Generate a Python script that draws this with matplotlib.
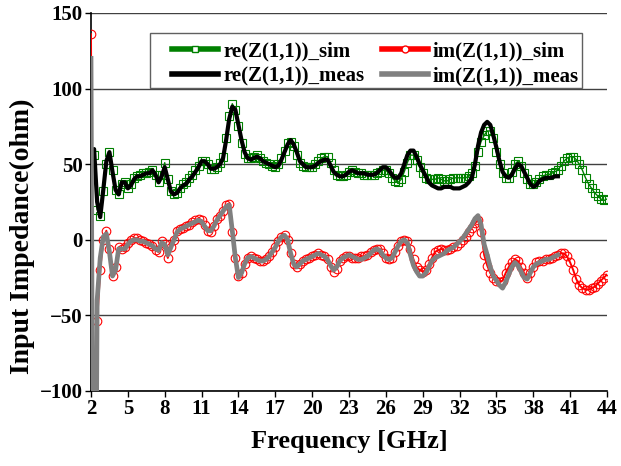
import numpy as np
import matplotlib
matplotlib.use("Agg")
import matplotlib.pyplot as plt
from matplotlib.lines import Line2D
from matplotlib.patches import Rectangle

plt.rcParams['font.family'] = ['Liberation Serif', 'DejaVu Serif']
plt.rcParams['font.weight'] = 'bold'

# frequency grids (GHz), 0.25 GHz sampling
freq_sim = np.arange(2.0, 44.001, 0.25)
freq_meas = np.arange(2.0, 40.001, 0.25)

# re(Z(1,1))_sim, 2.0 ... 44.0 GHz (8 values per 2 GHz)
re_sim = [
    58, 56, 20, 16, 32, 50, 58, 46,      # 2
    33, 30, 37, 38, 34, 37, 41, 42,      # 4
    43, 44, 44, 45, 46, 43, 38, 43,      # 6
    51, 40, 32, 30, 31, 34, 37, 38,      # 8
    41, 43, 46, 49, 52, 52, 50, 47,      # 10
    47, 48, 51, 55, 67, 82, 90, 86,      # 12
    75, 64, 57, 54, 54, 55, 56, 54,      # 14
    52, 51, 50, 49, 48, 50, 54, 59,      # 16
    64, 65, 62, 56, 51, 49, 48, 48,      # 18
    48, 50, 52, 54, 55, 55, 51, 46,      # 20
    43, 42, 42, 43, 45, 46, 45, 44,      # 22
    44, 43, 43, 43, 43, 44, 45, 46,      # 24
    46, 44, 41, 39, 38, 40, 45, 51,      # 26
    56, 56, 53, 48, 44, 41, 40, 40,      # 28
    40, 41, 40, 39, 39, 40, 41, 41,      # 30
    41, 41, 41, 42, 44, 49, 58, 65,      # 32
    69, 72, 72, 67, 58, 50, 44, 41,      # 34
    41, 45, 50, 52, 49, 44, 40, 37,      # 36
    37, 38, 40, 42, 43, 43, 44, 45,      # 38
    46, 49, 52, 54, 55, 55, 53, 50,      # 40
    46, 41, 37, 34, 31, 29, 27, 26,      # 42
    27,                                  # 44
]

# im(Z(1,1))_sim, 2.0 ... 44.0 GHz (runs far below the axis just after 2 GHz)
im_sim = [
    136, -400, -54, -20, 0, 6, -6, -24,  # 2
    -18, -5, -6, -5, -2, 0, 1, 1,        # 4
    0, -1, -2, -3, -4, -7, -8, -1,       # 6
    -3, -12, -5, 0, 6, 7, 8, 9,          # 8
    10, 12, 13, 14, 13, 10, 6, 5,        # 10
    9, 14, 16, 19, 23, 24, 5, -12,       # 12
    -24, -22, -16, -12, -11, -12, -13, -14,  # 14
    -14, -13, -11, -8, -5, -1, 2, 3,     # 16
    0, -9, -16, -18, -16, -14, -13, -12,  # 18
    -11, -10, -9, -10, -11, -13, -18, -21,  # 20
    -19, -14, -12, -11, -11, -12, -12, -12,  # 22
    -11, -11, -10, -8, -7, -6, -6, -9,   # 24
    -12, -13, -12, -8, -4, -1, 0, -1,    # 26
    -6, -13, -18, -20, -21, -20, -16, -12,  # 28
    -8, -7, -6, -7, -7, -6, -5, -4,      # 30
    -2, 0, 2, 5, 8, 11, 13, 5,           # 32
    -10, -17, -22, -25, -27, -28, -27, -22,  # 34
    -18, -15, -13, -14, -18, -22, -25, -22,  # 36
    -18, -15, -14, -14, -13, -13, -12, -11,  # 38
    -10, -9, -9, -11, -15, -20, -26, -30,  # 40
    -32, -33, -33, -32, -31, -29, -27, -25,  # 42
    -23,                                 # 44
]

# re(Z(1,1))_meas, 2.0 ... 40.0 GHz
re_meas = [
    55, 60, 25, 15, 33, 52, 58, 45,      # 2
    33, 30, 38, 38, 34, 36, 40, 42,      # 4
    42, 43, 44, 44, 46, 43, 38, 42,      # 6
    48, 40, 32, 30, 31, 34, 36, 37,      # 8
    40, 42, 45, 48, 52, 52, 50, 47,      # 10
    47, 48, 50, 54, 66, 80, 88, 86,      # 12
    76, 66, 58, 54, 53, 54, 55, 54,      # 14
    52, 51, 50, 49, 48, 49, 53, 58,      # 16
    63, 66, 63, 58, 52, 50, 48, 48,      # 18
    48, 49, 51, 52, 53, 53, 49, 45,      # 20
    43, 42, 42, 43, 45, 46, 45, 44,      # 22
    44, 44, 43, 43, 43, 44, 46, 48,      # 24
    48, 46, 43, 41, 41, 44, 50, 56,      # 26
    59, 59, 55, 50, 46, 42, 38, 36,      # 28
    35, 34, 34, 35, 35, 35, 34, 34,      # 30
    34, 35, 36, 38, 41, 50, 62, 71,      # 32
    76, 78, 76, 69, 61, 52, 45, 42,      # 34
    41, 43, 47, 50, 49, 45, 41, 37,      # 36
    35, 36, 39, 40, 41, 41, 41, 42,      # 38
    42,                                  # 40
]

# im(Z(1,1))_meas, 2.0 ... 40.0 GHz
im_meas = [
    120, -400, -40, -12, 2, 4, -8, -24,  # 2
    -20, -6, -6, -6, -3, -1, 0, 0,       # 4
    -1, -1, -2, -3, -4, -6, -7, -2,      # 6
    -3, -10, -5, 0, 5, 7, 8, 9,          # 8
    10, 11, 12, 13, 12, 9, 6, 6,         # 10
    9, 13, 16, 19, 22, 23, 6, -12,       # 12
    -25, -22, -16, -12, -11, -12, -13, -14,  # 14
    -14, -13, -11, -8, -5, -1, 2, 3,     # 16
    0, -9, -16, -18, -16, -14, -13, -12,  # 18
    -11, -10, -9, -10, -11, -13, -17, -20,  # 20
    -18, -14, -12, -11, -10, -11, -12, -13,  # 22
    -13, -12, -11, -9, -7, -6, -7, -10,  # 24
    -12, -13, -12, -8, -4, -1, 0, -2,    # 26
    -10, -17, -21, -24, -24, -22, -18, -14,  # 28
    -12, -11, -10, -9, -7, -6, -5, -3,   # 30
    -1, 1, 4, 7, 10, 14, 16, 10,         # 32
    -3, -10, -18, -24, -27, -30, -32, -28,  # 34
    -23, -18, -15, -17, -21, -25, -26, -22,  # 36
    -18, -16, -15, -14, -13, -13, -12, -11,  # 38
    -10,                                 # 40
]

x_ticks = list(range(2, 45, 3))
y_ticks = [-100, -50, 0, 50, 100, 150]

fig = plt.figure(figsize=(6.21, 4.66), dpi=100)
ax = fig.add_axes([91 / 621, 1 - 391 / 466, 516 / 621, 378 / 466])

ax.plot(freq_sim, re_sim, color='green', lw=1.0, marker='s', ms=5.6,
        mfc='none', mec='green', mew=0.8, zorder=3)
ax.plot(freq_sim, im_sim, color='red', lw=1.4, marker='o', ms=6.2,
        mfc='none', mec='red', mew=0.8, zorder=3)
ax.plot(freq_meas, re_meas, color='black', lw=3.0, zorder=4)
ax.plot(freq_meas, im_meas, color='#808080', lw=3.4, zorder=4)

ax.set_xlim(2, 44)
ax.set_ylim(-100, 150)
ax.set_xticks(x_ticks)
ax.set_yticks(y_ticks)
ax.tick_params(direction='out', length=4, width=1, labelsize=15, pad=2)
for lab in ax.get_xticklabels() + ax.get_yticklabels():
    lab.set_fontweight('bold')

ax.yaxis.grid(True, color='#404040', lw=1.0)
ax.set_axisbelow(True)
ax.spines['right'].set_visible(False)
ax.spines['top'].set_visible(False)
ax.spines['left'].set_linewidth(1.2)
ax.spines['bottom'].set_linewidth(1.2)

ax.set_xlabel('Frequency [GHz]', fontsize=19, fontweight='bold', labelpad=8)
ax.set_ylabel('Input Impedance(ohm)', fontsize=20, fontweight='bold')
ax.yaxis.set_label_coords(-0.108, 0.41)

# legend box drawn separately (Excel-style wide inner margin)
box = Rectangle((0.1143, 0.8016), 0.8373, 0.1454, transform=ax.transAxes,
                facecolor='white', edgecolor='#606060', lw=1.0, zorder=5)
ax.add_patch(box)

handles = [
    Line2D([], [], color='green', lw=4, marker='s', ms=5, mfc='white', mec='green', mew=1),
    Line2D([], [], color='black', lw=4),
    Line2D([], [], color='red', lw=4, marker='o', ms=5, mfc='white', mec='red', mew=1),
    Line2D([], [], color='#808080', lw=4),
]
labels = ['re(Z(1,1))_sim', 're(Z(1,1))_meas', 'im(Z(1,1))_sim', 'im(Z(1,1))_meas']
leg = ax.legend(handles, labels, ncol=2, loc='upper left', bbox_to_anchor=(0.157, 0.925),
                borderaxespad=0, borderpad=0, numpoints=1, handlelength=2.2,
                handletextpad=0.25, columnspacing=0.85, labelspacing=0.25,
                frameon=False, prop={'size': 15, 'weight': 'bold'})
leg.set_zorder(6)

fig.savefig('out.png', dpi=100)
